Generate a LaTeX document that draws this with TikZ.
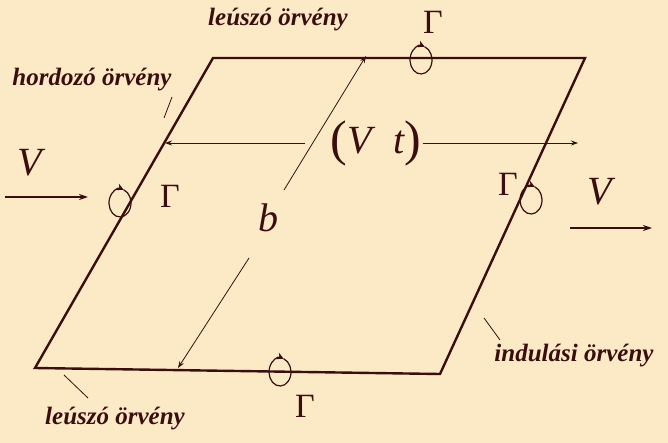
\documentclass[tikz,border=0pt]{standalone}
\usepackage{fontspec}
\setmainfont{Liberation Serif}
\usetikzlibrary{arrows.meta}
\definecolor{bg}{HTML}{FCEAC6}
\definecolor{ink}{HTML}{3A0E0E}
\newcommand{\vortexmark}[2]{%
  \draw[ink,line width=1.2pt,-{Stealth[length=7pt,width=7pt]}] (#1,#2) ++(70:11pt and 14pt)
    arc[start angle=70,end angle=-290,x radius=11pt,y radius=14pt];}
\begin{document}
\begin{tikzpicture}[x=1pt,y=-1pt]
  \tikzstyle{edge}=[ink,line width=2.4pt]
  \tikzstyle{dimline}=[ink,line width=0.8pt,-{Stealth[length=7pt,width=5pt]}]
  \tikzstyle{flow}=[ink,line width=1.4pt,-{Stealth[length=9pt,width=6pt]}]
  \tikzstyle{tag}=[ink,font=\bfseries\itshape\fontsize{25}{27}\selectfont]
  \tikzstyle{sym}=[ink,font=\itshape\fontsize{40}{42}\selectfont]
  \tikzstyle{gam}=[ink,font=\fontsize{34}{36}\selectfont]
  \fill[bg] (0,0) rectangle (668,443);
  \useasboundingbox (0,0) rectangle (668,443);

  % corners
  \coordinate (tl) at (213,58);
  \coordinate (tr) at (585,58);
  \coordinate (br) at (440,374);
  \coordinate (bl) at (35,368);
  \draw[edge] (tl) -- (tr) -- (br) -- (bl) -- cycle;

  % span V t
  \node[sym,inner sep=1pt] (vt) at (376,143) {\raisebox{-2pt}{\upshape\fontsize{50}{52}\selectfont(}V\kern 22pt t\raisebox{-2pt}{\upshape\fontsize{50}{52}\selectfont)}};
  \coordinate (vtl) at (165,143);
  \coordinate (vtr) at (578,143);
  \draw[dimline] (305,143) -- (vtl);
  \draw[dimline] (vt.east) -- (vtr);

  % span b
  \node[sym] (b) at (268,218) {b};
  \coordinate (bt) at (366,56);
  \coordinate (bb) at (178,368);
  \draw[dimline] (284,190) -- (bt);
  \draw[dimline] (249,258) -- (bb);

  % free stream
  \node[sym] (vin) at (30,163) {V};
  \node[sym] (vout) at (600,192) {V};
  \coordinate (in1) at (5,197);
  \coordinate (in2) at (88,197);
  \coordinate (out1) at (570,228);
  \coordinate (out2) at (652,228);
  \draw[flow] (in1) -- (in2);
  \draw[flow] (out1) -- (out2);

  % vortices
  \vortexmark{120}{203}
  \vortexmark{531}{200}
  \vortexmark{421}{60}
  \vortexmark{280}{372}
  \node[gam] (g1) at (170,196) {Γ};
  \node[gam] (g2) at (508,184) {Γ};
  \node[gam] (g3) at (433,22) {Γ};
  \node[gam] (g4) at (305,406) {Γ};

  % labels
  \node[tag] (l1) at (278,20) {leúszó örvény};
  \node[tag] (l2) at (92,80) {hordozó örvény};
  \node[tag] (l3) at (574,356) {indulási örvény};
  \node[tag] (l4) at (115,419) {leúszó örvény};
  \draw[ink,line width=0.8pt] (172,97) -- (164,118);
  \draw[ink,line width=0.8pt] (484,318) -- (500,340);
  \draw[ink,line width=0.8pt] (64,375) -- (88,398);
\end{tikzpicture}
\end{document}
